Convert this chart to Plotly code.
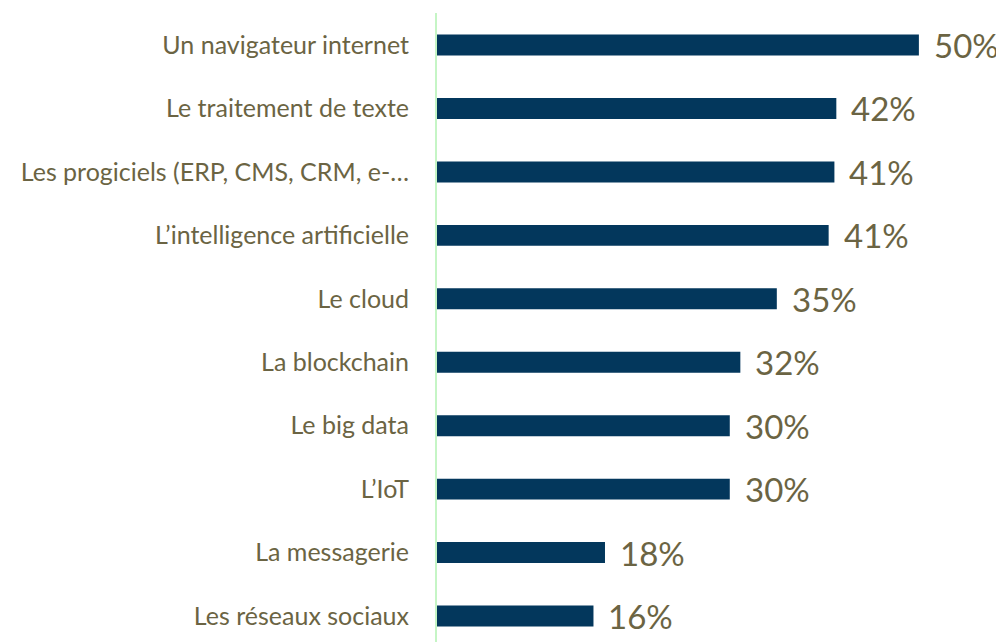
import plotly.graph_objects as go

categories = [
    "Un navigateur internet",
    "Le traitement de texte",
    "Les progiciels (ERP, CMS, CRM, e-…",
    "L’intelligence artificielle",
    "Le cloud",
    "La blockchain",
    "Le big data",
    "L’IoT",
    "La messagerie",
    "Les réseaux sociaux",
]
values = [50.2, 41.6, 41.4, 40.8, 35.4, 31.6, 30.5, 30.5, 17.5, 16.3]
value_labels = ["50%", "42%", "41%", "41%", "35%", "32%", "30%", "30%", "18%", "16%"]

BAR = "#03375C"
TXT = "#6B6443"

cats = categories[::-1]
vals = values[::-1]
labs = value_labels[::-1]

fig = go.Figure(go.Bar(
    x=vals, y=cats, orientation="h",
    marker=dict(color=BAR, line=dict(width=0)),
    width=0.33,
    hoverinfo="skip",
))

for c, v, t in zip(cats, vals, labs):
    fig.add_annotation(x=v, y=c, text=t, showarrow=False, xanchor="left",
                       yanchor="middle", xshift=13, yshift=0,
                       font=dict(family="Lato", size=33, color=TXT))

# the page body has an 8px margin, so the figure is sized/offset to compensate
fig.update_layout(
    width=996, height=634,
    margin=dict(l=429, r=4, t=5, b=0, autoexpand=False),
    paper_bgcolor="white", plot_bgcolor="white",
    showlegend=False,
    xaxis=dict(range=[0, 58.65], visible=False, showgrid=False, zeroline=False,
               automargin=False),
    yaxis=dict(
        categoryorder="array", categoryarray=cats,
        range=[-0.41, 9.505],
        showgrid=False, zeroline=False, automargin=False,
        showline=True, linecolor="#C5F5C5", linewidth=2,
        ticks="", ticklabelstandoff=21,
        tickfont=dict(family="Lato", size=25, color=TXT),
    ),
)

fig.write_html("out.html")
